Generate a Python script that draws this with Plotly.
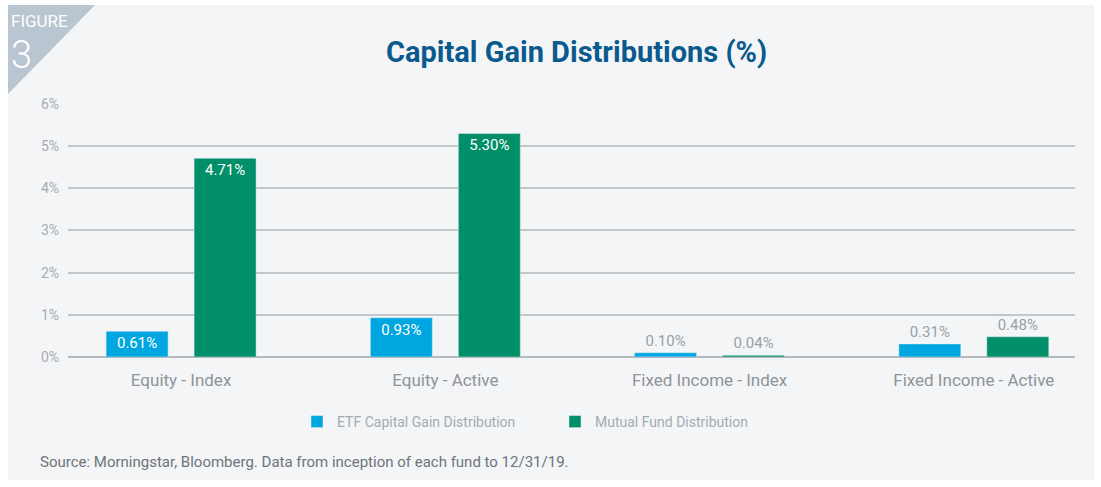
import plotly.graph_objects as go

categories = ["Equity - Index", "Equity - Active", "Fixed Income - Index", "Fixed Income - Active"]
etf_values = [0.61, 0.93, 0.10, 0.31]
mf_values = [4.71, 5.30, 0.04, 0.48]
etf_name = "ETF Capital Gain Distribution"
mf_name = "Mutual Fund Distribution"
y_ticks = [0, 1, 2, 3, 4, 5, 6]
y_tick_labels = ["0%", "1%", "2%", "3%", "4%", "5%", "6%"]

FONT = "Roboto"
ETF_COLOR = "#00a6e0"
MF_COLOR = "#008f69"
GREY = "#9aa0a6"

L, R, T, B = 68, 26, 103, 130
PW = 1101 - L - R
PH = 487 - T - B

def px(x):
    return (x - L) / PW

def py(y):
    return (487 - B - y) / PH

def positions(vals):
    return ["inside" if v >= 0.5 else "outside" for v in vals]

def tcolors(vals):
    return ["white" if v >= 0.5 else GREY for v in vals]

fig = go.Figure()
fig.add_trace(go.Bar(
    x=categories, y=etf_values, name=etf_name, marker_color=ETF_COLOR,
    width=0.2346, offset=-0.2838,
    text=[f"{v:.2f}%" for v in etf_values], textposition=positions(etf_values),
    insidetextanchor="end",
    textfont=dict(family=FONT, size=15, color=tcolors(etf_values)),
    cliponaxis=False,
))
fig.add_trace(go.Bar(
    x=categories, y=mf_values, name=mf_name, marker_color=MF_COLOR,
    width=0.2346, offset=0.0492,
    text=[f"{v:.2f}%" for v in mf_values], textposition=positions(mf_values),
    insidetextanchor="end",
    textfont=dict(family=FONT, size=15, color=tcolors(mf_values)),
    cliponaxis=False,
))

fig.update_layout(
    width=1101, height=487,
    margin=dict(l=L, r=R, t=T, b=B),
    paper_bgcolor="white",
    plot_bgcolor="rgba(0,0,0,0)",
    font=dict(family=FONT, color=GREY),
    showlegend=True,
    legend=dict(
        orientation="h", x=px(297), xanchor="left", y=py(422), yanchor="middle",
        font=dict(family=FONT, size=14, color="#a5abb1"),
        entrywidth=213, entrywidthmode="pixels", itemwidth=30,
        bgcolor="rgba(0,0,0,0)", traceorder="normal",
    ),
    xaxis=dict(
        type="category", range=[-0.428, 3.383], showgrid=False, zeroline=False,
        showline=False, ticks="", tickfont=dict(family=FONT, size=17, color="#8e949a"),
        ticklabelstandoff=11,
    ),
    yaxis=dict(
        range=[0, 6.02], tickvals=y_ticks, ticktext=y_tick_labels,
        showgrid=True, gridcolor="#c3c7cb", gridwidth=1.5,
        zeroline=True, zerolinecolor="#b4b9be", zerolinewidth=2,
        showline=False, ticks="", tickfont=dict(family=FONT, size=14, color="#a5abb1"),
        ticklabelstandoff=8,
    ),
    shapes=[
        dict(type="rect", xref="paper", yref="paper", layer="below",
             x0=px(8), x1=px(1094), y0=py(480), y1=py(5),
             fillcolor="#f3f5f7", line=dict(width=0)),
        dict(type="path", xref="paper", yref="paper", layer="below",
             path=f"M {px(8)} {py(5)} L {px(95)} {py(5)} L {px(8)} {py(94)} Z",
             fillcolor="#b9c5d0", line=dict(width=0)),
    ],
    annotations=[
        dict(text="<b>Capital Gain Distributions (%)</b>", xref="paper", yref="paper",
             x=px(576), y=py(52), xanchor="center", yanchor="middle",
             showarrow=False, font=dict(family=FONT, size=29, color="#0b5a8e")),
        dict(text="FIGURE", xref="paper", yref="paper",
             x=px(9), y=py(33), xanchor="left", yanchor="bottom",
             showarrow=False, font=dict(family="Roboto", size=17, color="white")),
        dict(text="3", xref="paper", yref="paper",
             x=px(9), y=py(31), xanchor="left", yanchor="top",
             showarrow=False, font=dict(family="Roboto", size=38, color="white", weight=300)),
        dict(text="Source: Morningstar, Bloomberg. Data from inception of each fund to 12/31/19.",
             xref="paper", yref="paper",
             x=px(38), y=py(462), xanchor="left", yanchor="middle",
             showarrow=False, font=dict(family=FONT, size=15, color="#6e7479")),
    ],
)

fig.write_html("out.html", config={"displayModeBar": False},
               post_script="document.body.style.margin='0';document.body.style.padding='0';")
